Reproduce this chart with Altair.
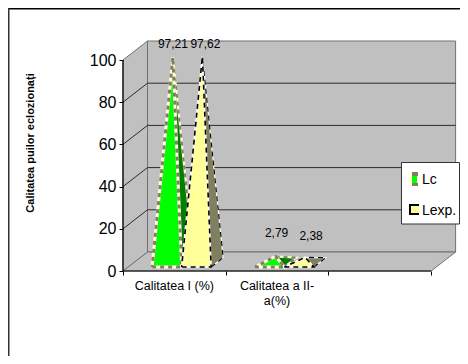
import altair as alt
import pandas as pd

categories = ["Calitatea I (%)", ["Calitatea a II-", "a(%)"]]
lc_values = [97.21, 2.79]
lexp_values = [97.62, 2.38]
series_names = ["Lc", "Lexp."]
y_ticks = [0, 20, 40, 60, 80, 100]
x_ticks = [0, 1, 2, 3]
y_title = "Calitatea puilor eclozionați"

W, H = 452, 348
OX, OY = 115, 263      # plot px of the (0,0) corner
UX, UY = 102.7, 2.11   # px per category, px per percent
DX, DY = 24.5 / UX, 19 / UY  # depth expressed in data units
N_CAT = 3
TOP = 100

xs = alt.Scale(domain=[-OX / UX, (W - OX) / UX], range=[0, W], nice=False, zero=False)
ys = alt.Scale(domain=[(OY - H) / UY, OY / UY], range=[H, 0], nice=False, zero=False)
X = alt.X("x:Q", scale=xs, axis=alt.Axis(values=x_ticks, offset=-(H - OY), domain=False, grid=False, tickSize=4,
                                         tickColor="#000000", labels=False, title=None, zindex=1))
Y = alt.Y("y:Q", scale=ys, axis=alt.Axis(values=y_ticks, offset=-OX, domain=False, grid=False, tickSize=4,
                                         tickColor="#000000", labelFont="Liberation Sans", labelFontSize=16,
                                         labelColor="#000000", labelPadding=3, title=None, format="d", zindex=1))


def p3(x, y, z=0.0):
    return (x + DX * z, y + DY * z)


def poly(points, fill=None, stroke=None, sw=1.0, dash=None, closed=True):
    pts = list(points) + ([points[0]] if closed else [])
    df = pd.DataFrame({"x": [p[0] for p in pts], "y": [p[1] for p in pts], "i": range(len(pts))})
    kw = {"strokeWidth": sw, "strokeJoin": "miter", "clip": False, "interpolate": "linear"}
    kw["stroke"] = stroke if stroke else "transparent"
    if fill:
        kw["fill"] = fill
    if dash:
        kw["strokeDash"] = dash
    return alt.Chart(df).mark_line(**kw).encode(x=X, y=Y, order=alt.Order("i:Q"))


layers = []
GRAY = "#C0C0C0"
EDGE = "#707070"

# walls and floor
layers.append(poly([p3(0, 0, 1), p3(N_CAT, 0, 1), p3(N_CAT, TOP, 1), p3(0, TOP, 1)], GRAY, EDGE))
layers.append(poly([p3(0, 0), p3(0, 0, 1), p3(0, TOP, 1), p3(0, TOP)], GRAY, EDGE))
layers.append(poly([p3(0, 0), p3(N_CAT, 0), p3(N_CAT, 0, 1), p3(0, 0, 1)], GRAY, EDGE))

# gridlines
for t in y_ticks[1:-1]:
    layers.append(poly([p3(0, t), p3(0, t, 1), p3(N_CAT, t, 1)], None, "#2a2a2a", 1, closed=False))

# front axis lines
layers.append(poly([p3(0, TOP), p3(0, 0), p3(N_CAT, 0)], None, "#000000", 1.2, closed=False))

BAR_W = 29.5 / UX
GAP = 24 / UX
Z0, Z1 = 0.21, 0.70
ZC = (Z0 + Z1) / 2


def pyramid(cat, slot, value, front, side, band, dash_col, sw, dash):
    x0 = cat + GAP + slot * BAR_W
    x1 = x0 + BAR_W
    xc = (x0 + x1) / 2
    a = p3(xc, value, ZC)
    fl, fr = p3(x0, 0, Z0), p3(x1, 0, Z0)
    br = p3(x1, 0, Z1)
    out = []
    out.append(poly([fr, br, a], side, band, sw * 0.7))
    out.append(poly([fr, br, a], None, dash_col, sw * 0.7, dash))
    out.append(poly([fl, fr, a], front, band, sw))
    out.append(poly([fl, fr, a], None, dash_col, sw, dash))
    return out


for c in range(len(lc_values)):
    layers += pyramid(c, 0, lc_values[c], "#00FF00", "#008000", "#FFFFE0", "#808060", 3, [4, 4])
    layers += pyramid(c, 1, lexp_values[c], "#FFFF99", "#808060", "#FFFFFF", "#000000", 1.6, [5, 4])


def label(cat, slot, value, dx, dy):
    x0 = cat + GAP + slot * BAR_W
    a = p3(x0 + BAR_W / 2, value, ZC)
    df = pd.DataFrame({"x": [a[0]], "y": [a[1]], "t": [f"{value:.2f}".replace(".", ",")]})
    return alt.Chart(df).mark_text(font="Liberation Sans", fontSize=12, color="#000000", dx=dx, dy=dy,
                                   clip=False).encode(x=X, y=Y, text="t:N")


layers.append(label(0, 0, lc_values[0], 0, -13))
layers.append(label(0, 1, lexp_values[0], 3, -12))
layers.append(label(1, 0, lc_values[1], 1, -23))
layers.append(label(1, 1, lexp_values[1], 6, -21))

# category labels
for i, cat in enumerate(categories):
    df = pd.DataFrame({"x": [i + 0.5], "t": [cat]})
    layers.append(alt.Chart(df).mark_text(font="Liberation Sans", fontSize=12.5, color="#000000", baseline="top",
                                          lineHeight=15, lineBreak="\n").encode(
        x=X, y=alt.value(272), text="t:N"))

# y title
layers.append(alt.Chart(pd.DataFrame({"t": [y_title]})).mark_text(
    font="Liberation Sans", fontSize=11, fontWeight="bold", angle=270, color="#000000").encode(
    x=alt.value(23), y=alt.value(135), text="t:N"))


def box(x, x2, y, y2, fill, stroke=None, sw=1):
    kw = {"fill": fill}
    if stroke:
        kw.update(stroke=stroke, strokeWidth=sw)
    return alt.Chart(pd.DataFrame({"a": [0]})).mark_rect(**kw).encode(
        x=alt.value(x), x2=alt.value(x2), y=alt.value(y), y2=alt.value(y2))


# legend
layers.append(box(393.5, 451.5, 154.5, 216, "#FFFFFF", "#333333", 1))
layers.append(box(400, 410, 164, 178, "#FFFFE0"))
layers.append(box(404, 410, 164, 168, "#808060"))
layers.append(box(404, 410, 175, 178, "#808060"))
layers.append(box(404, 409, 168, 175, "#00FF00"))
layers.append(box(401, 411, 196, 207, "#000000"))
layers.append(box(403, 411, 198, 205, "#FFFF99"))
for name, yy in zip(series_names, [172, 203]):
    layers.append(alt.Chart(pd.DataFrame({"t": [name]})).mark_text(
        font="Liberation Sans", fontSize=14, align="left", color="#000000").encode(
        x=alt.value(414), y=alt.value(yy), text="t:N"))

# outer frame
layers.append(box(0, W, 0, 1.5, "#000000"))
layers.append(box(0, 1.5, 0, H, "#333333"))

chart = alt.layer(*layers).properties(
    width=W, height=H, autosize=alt.AutoSizeParams(type="none"), padding=0, background="#FFFFFF"
).configure_view(strokeWidth=0)

chart.save("out.html", embed_options={"renderer": "svg", "actions": False})
